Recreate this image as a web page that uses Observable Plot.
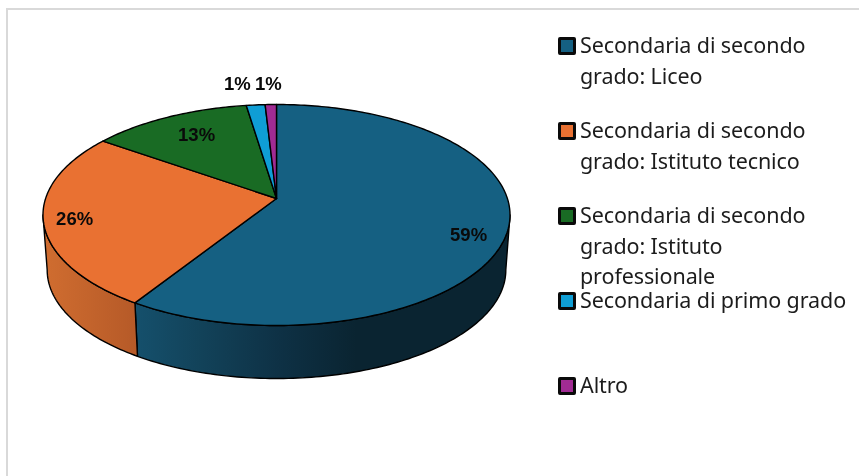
<!DOCTYPE html>
<html>
<head>
<meta charset="utf-8">
<script src="https://cdn.jsdelivr.net/npm/d3@7"></script>
<script src="https://cdn.jsdelivr.net/npm/@observablehq/plot@0.6"></script>
<style>
  html, body { margin: 0; padding: 0; background: #fff; }
  #wrap { position: relative; width: 859px; height: 476px; overflow: hidden; background: #fff; filter: blur(0.35px); }
  #frame { position: absolute; left: 6px; top: 8px; right: -4px; bottom: -4px; border-left: 2px solid #d9d9d9; border-top: 2px solid #d9d9d9; }
  #chart { position: absolute; left: 0; top: 0; }
  #legend { position: absolute; left: 558px; top: 37px; width: 296px; font-family: "Noto Sans", sans-serif; font-size: 21.5px; letter-spacing: -0.1px; line-height: 30.5px; color: #1c1c1c; }
  .item { position: relative; height: 85px; padding-left: 22px; box-sizing: border-box; margin-top: 0; }
  .item span.t { display: block; position: relative; top: -7px; }
  .item i { position: absolute; left: 0; top: 0; width: 18px; height: 18px; box-sizing: border-box; border: 3.5px solid #0a0a0a; border-radius: 2px; }
</style>
</head>
<body>
<div id="wrap"><div id="frame"></div><div id="chart"></div><div id="legend"></div></div>
<script>
const categories = [
  "Secondaria di secondo grado: Liceo",
  "Secondaria di secondo grado: Istituto tecnico",
  "Secondaria di secondo grado: Istituto professionale",
  "Secondaria di primo grado",
  "Altro"
];
const legendLines = [
  ["Secondaria di secondo", "grado: Liceo"],
  ["Secondaria di secondo", "grado: Istituto tecnico"],
  ["Secondaria di secondo", "grado: Istituto", "professionale"],
  ["Secondaria di primo grado"],
  ["Altro"]
];
const shares = [59.0, 25.8, 12.8, 1.5, 0.9];
const labelTexts = ["59%", "26%", "13%", "1%", "1%"];
const colors = ["#156082", "#E97132", "#196B24", "#0F9ED5", "#A02B93"];
const labelRadius = [0.856, 0.87, 0.743, 1.268, 1.253];
const labelShift = [6.2, -1.1, 1, -3.2, -0.3];

// Perspective pie model (units = px, origin at the pie's apex)
const W = 859, H = 476, apexX = 276, apexY = 198;
const A = 230.9, B = 108.04, E = 0.1493, depth = 55.3, bottomScale = 0.982;
const rad = d => d * Math.PI / 180;
function project(theta, r = 1, floor = false) {
  const u = r * Math.sin(rad(theta)), v = r * Math.cos(rad(theta)), w = 1 + E * v;
  const s = floor ? bottomScale : 1;
  return {x: s * A * u / w, y: -s * B * v / w + (floor ? depth : 0)};
}
const total = d3.sum(shares);
const cum = d3.cumsum(shares);
const slices = shares.map((v, i) => ({
  name: categories[i], value: v, color: colors[i],
  start: (i ? cum[i - 1] : 0) / total * 360,
  end: cum[i] / total * 360
}));
function arc(a, b, floor) {
  const n = Math.max(2, Math.ceil(Math.abs(b - a)));
  return d3.range(n + 1).map(k => project(a + (b - a) * k / n, 1, floor));
}
const tops = slices.flatMap(s => [{x: 0, y: 0}, ...arc(s.start, s.end, false), {x: 0, y: 0}].map(p => ({...p, name: s.name})));

// Visible wall stops at the silhouette of the ellipse
const extR = Math.acos(-E) * 180 / Math.PI, extL = 360 - extR;
function wall(s) {
  const a = Math.max(s.start, extR), b = Math.min(s.end, extL);
  if (a >= b) return [];
  const t = arc(a, b, false), f = arc(a, b, true).reverse();
  return [...t, ...f, t[0]];
}
const gradients = [
  {id: "wallBlue", x1: -141, x2: 80, stops: [[0, "#15506c"], [0.3, "#124259"], [0.65, "#0e3145"], [1, "#0a2431"]]},
  {id: "wallOrange", x1: -233, x2: -141, stops: [[0, "#d06d30"], [1, "#b65a28"]]}
];
const NS = "http://www.w3.org/2000/svg";
function defsMark(index, scales) {
  const defs = document.createElementNS(NS, "defs");
  for (const g of gradients) {
    const el = document.createElementNS(NS, "linearGradient");
    el.setAttribute("id", g.id);
    el.setAttribute("gradientUnits", "userSpaceOnUse");
    el.setAttribute("x1", scales.x(g.x1)); el.setAttribute("x2", scales.x(g.x2));
    el.setAttribute("y1", 0); el.setAttribute("y2", 0);
    for (const [o, c] of g.stops) {
      const st = document.createElementNS(NS, "stop");
      st.setAttribute("offset", o); st.setAttribute("stop-color", c);
      el.appendChild(st);
    }
    defs.appendChild(el);
  }
  return defs;
}
const labels = slices.map((s, i) => {
  const mid = (s.start + s.end) / 2 + labelShift[i];
  return {...project(mid, labelRadius[i]), text: labelTexts[i]};
});
const lineStyle = {x: "x", y: "y", stroke: "#000", strokeWidth: 1.4, strokeLinejoin: "round"};

const plot = Plot.plot({
  width: W, height: H,
  marginTop: 0, marginRight: 0, marginBottom: 0, marginLeft: 0,
  style: {background: "transparent", overflow: "visible"},
  x: {domain: [-apexX, W - apexX], range: [0, W], axis: null},
  y: {domain: [-apexY, H - apexY], range: [0, H], axis: null},
  color: {domain: categories, range: colors},
  marks: [
    (index, scales) => defsMark(index, scales),
    Plot.line(wall(slices[0]), {...lineStyle, fill: "url(#wallBlue)"}),
    Plot.line(wall(slices[1]), {...lineStyle, fill: "url(#wallOrange)"}),
    Plot.line(tops, {...lineStyle, z: "name", fill: "name"}),
    Plot.text(labels, {x: "x", y: "y", text: "text", fill: "#0a0a0a", fontFamily: "Liberation Sans", fontWeight: "bold", fontSize: 18.5})
  ]
});
document.getElementById("chart").appendChild(plot);

const legend = d3.select("#legend");
legendLines.forEach((lines, i) => {
  const item = legend.append("div").attr("class", "item");
  item.append("i").style("background", colors[i]);
  const t = item.append("span").attr("class", "t");
  lines.forEach(l => t.append("div").text(l));
});
</script>
</body>
</html>
